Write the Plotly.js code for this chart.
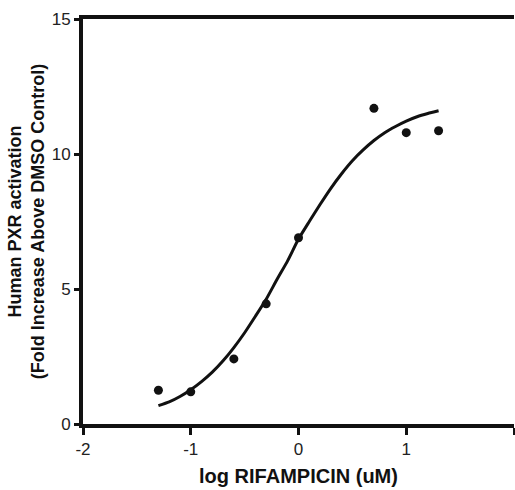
<!DOCTYPE html>
<html>
<head>
<meta charset="utf-8">
<script src="https://cdn.plot.ly/plotly-3.0.1.min.js"></script>
<style>html,body{margin:0;padding:0;background:#fff;}#chart{width:515px;height:490px;}</style>
</head>
<body>
<div id="chart"></div>
<script>
// Measured data points (log concentration, fold increase)
const logConc = [-1.3, -1.0, -0.6, -0.3, 0.0, 0.7, 1.0, 1.3];
const foldIncrease = [1.25, 1.19, 2.41, 4.45, 6.9, 11.69, 10.79, 10.86];

// Fitted curve
const curveX = [-1.3, -1.2, -1.1, -1.0, -0.9, -0.8, -0.7, -0.6, -0.5, -0.4, -0.3, -0.2, -0.1, 0.0,
                0.1, 0.2, 0.3, 0.4, 0.5, 0.6, 0.7, 0.8, 0.9, 1.0, 1.1, 1.2, 1.3];
const curveY = [0.68, 0.82, 1.02, 1.27, 1.57, 1.92, 2.34, 2.83, 3.38, 3.99, 4.62, 5.35, 6.05, 6.85,
                7.5, 8.13, 8.73, 9.27, 9.75, 10.15, 10.5, 10.79, 11.02, 11.22, 11.38, 11.5, 11.6];

const xTicks = [-2, -1, 0, 1, 2];
const yTicks = [0, 5, 10, 15];

const ink = '#111';
const fam = 'Liberation Sans, Arial, sans-serif';

const traces = [
  {x: curveX, y: curveY, mode: 'lines', line: {color: ink, width: 3, shape: 'spline', smoothing: 0.6}, hoverinfo: 'skip'},
  {x: logConc, y: foldIncrease, mode: 'markers', marker: {color: ink, size: 9}}
];

const layout = {
  width: 515, height: 490,
  margin: {l: 83, r: 1, t: 19, b: 66},
  showlegend: false,
  paper_bgcolor: '#fff', plot_bgcolor: '#fff',
  xaxis: {
    range: [-2, 2], tickvals: xTicks, ticktext: xTicks.map(String),
    ticks: 'outside', ticklen: 7, tickwidth: 3, tickcolor: ink,
    showline: true, linewidth: 4, linecolor: ink, mirror: true,
    showgrid: false, zeroline: false,
    tickfont: {family: fam, size: 17, color: '#222'},
    title: {text: 'log RIFAMPICIN (uM)', font: {family: fam, size: 20, color: ink, weight: 'bold'}, standoff: 12}
  },
  yaxis: {
    range: [0, 15], tickvals: yTicks, ticktext: yTicks.map(String),
    ticks: 'outside', ticklen: 5, tickwidth: 3, tickcolor: ink,
    showline: true, linewidth: 4, linecolor: ink,
    showgrid: false, zeroline: false,
    tickfont: {family: fam, size: 17, color: '#222'},
    title: {text: 'Human PXR activation<br>(Fold Increase Above DMSO Control)', font: {family: fam, size: 18, color: ink, weight: 'bold'}, standoff: 3}
  }
};

Plotly.newPlot('chart', traces, layout, {displayModeBar: false, staticPlot: true});
</script>
</body>
</html>
